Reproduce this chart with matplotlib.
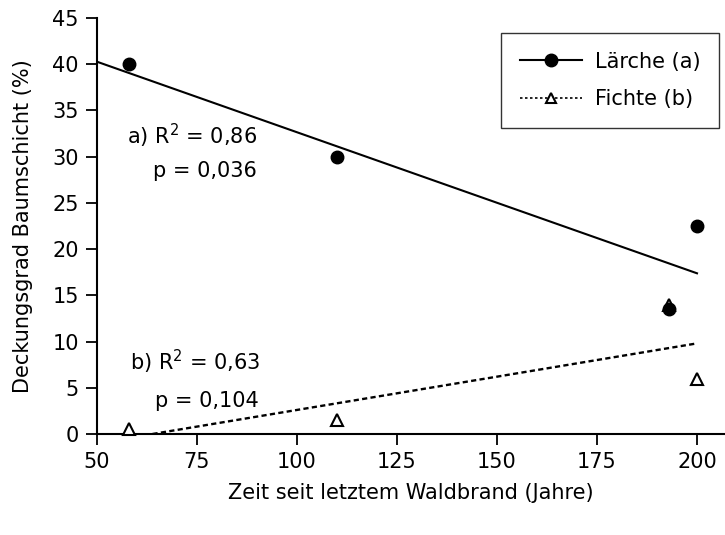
import numpy as np
import matplotlib
matplotlib.use("Agg")
import matplotlib.pyplot as plt

plt.rcParams['font.family'] = ['DejaVu Sans']

x_laerche = [58, 110, 193, 200]
y_laerche = [40, 30, 13.5, 22.5]
x_fichte = [58, 110, 193, 200]
y_fichte = [0.5, 1.5, 14, 6]
xticks = [50, 75, 100, 125, 150, 175, 200]
yticks = [0, 5, 10, 15, 20, 25, 30, 35, 40, 45]

FS = 15

fig = plt.figure(figsize=(7.25, 5.35), dpi=100)
ax = fig.add_axes([97/725, 101/535, 628/725, 416/535])

# regression lines
m1, b1 = np.polyfit(x_laerche, y_laerche, 1)
xs1 = np.array([50, 200])
ax.plot(xs1, m1*xs1 + b1, color='black', lw=1.5, zorder=2)
m2, b2 = np.polyfit(x_fichte, y_fichte, 1)
xs2 = np.array([-b2/m2, 200])
ax.plot(xs2, m2*xs2 + b2, color='black', lw=1.7, ls=(0, (2.2, 1.4)), zorder=2)

ax.plot(x_fichte, y_fichte, ls='none', marker='^', markersize=9, markerfacecolor='white',
        markeredgecolor='black', markeredgewidth=1.5, zorder=3, clip_on=False)
ax.plot(x_laerche, y_laerche, ls='none', marker='o', markersize=9, color='black', zorder=4, clip_on=False)

# legend handles
h1, = ax.plot([], [], color='black', lw=1.5, marker='o', markersize=9)
h2, = ax.plot([], [], color='black', lw=1.2, ls=(0, (1.5, 1.5)), marker='^', markersize=7,
              markerfacecolor='white', markeredgecolor='black', markeredgewidth=1.5)
leg = ax.legend([h1, h2], ['Lärche (a)', 'Fichte (b)'], loc='upper right',
                bbox_to_anchor=(719/725, 502/535), bbox_transform=fig.transFigure,
                fontsize=FS, frameon=True, fancybox=False, edgecolor='black',
                handlelength=3.0, numpoints=1, borderpad=0.9, labelspacing=0.85,
                handletextpad=0.6, borderaxespad=0)
leg.get_frame().set_linewidth(1.0)

ax.text(57.5, 32.3, 'a) R$^2$ = 0,86', fontsize=FS, va='center', ha='left')
ax.text(64, 28.4, 'p = 0,036', fontsize=FS, va='center', ha='left')
ax.text(58.2, 7.8, 'b) R$^2$ = 0,63', fontsize=FS, va='center', ha='left')
ax.text(64.5, 3.6, 'p = 0,104', fontsize=FS, va='center', ha='left')

ax.set_xlim(50, 207)
ax.set_ylim(0, 45)
ax.set_xticks(xticks)
ax.set_yticks(yticks)
ax.tick_params(direction='out', length=8, width=1.3, labelsize=FS, pad=5)
ax.tick_params(axis='x', pad=5)
for s in ['top', 'right']:
    ax.spines[s].set_visible(False)
for s in ['left', 'bottom']:
    ax.spines[s].set_linewidth(1.5)

ax.set_xlabel('Zeit seit letztem Waldbrand (Jahre)', fontsize=FS, labelpad=8)
ax.set_ylabel('Deckungsgrad Baumschicht (%)', fontsize=FS, labelpad=14)

fig.savefig('out.png', dpi=100)
